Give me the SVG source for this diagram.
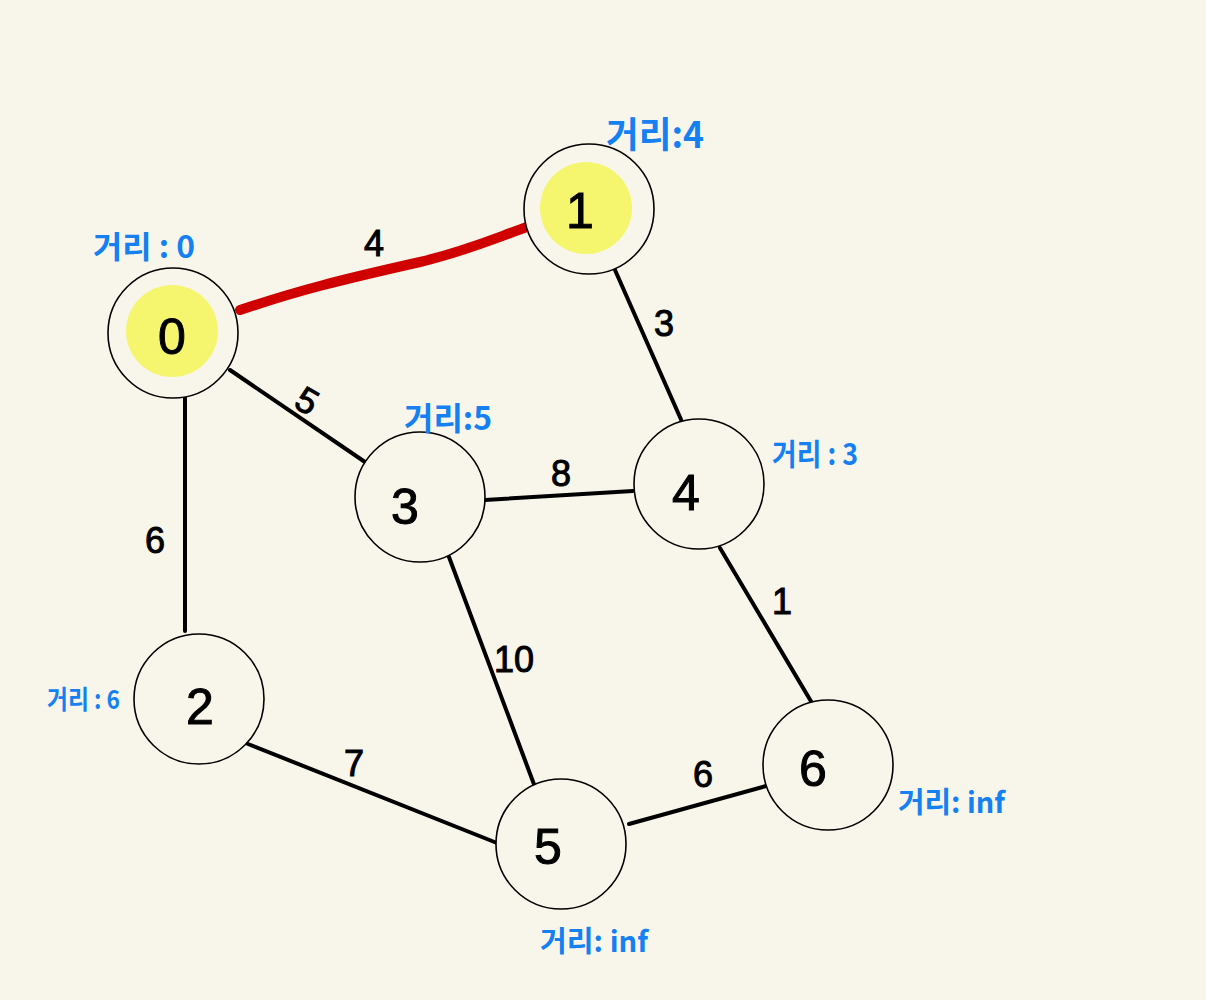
<svg xmlns="http://www.w3.org/2000/svg" width="1206" height="1000" viewBox="0 0 1206 1000">
<style>
.node{fill:#f8f6ea;stroke:#000;stroke-width:1.6}
.hl{fill:#f5f56e}
.nl{font-family:"Liberation Sans","Noto Sans",sans-serif;font-size:50px;fill:#000;text-anchor:middle;stroke:#000;stroke-width:1}
.el{font-family:"Liberation Sans","Noto Sans",sans-serif;font-size:36px;fill:#000;text-anchor:middle;stroke:#000;stroke-width:1}
.dl{font-family:"Noto Sans CJK KR","Noto Sans",sans-serif;font-weight:bold;fill:#1580f2}
.e{stroke:#000;stroke-width:4;stroke-linecap:round;fill:none}
</style>
<rect width="1206" height="1000" fill="#f8f6ea"/>
<g id="connectors">
<path d="M240,310 C300,290 340,280 420,262 C470,250 500,236 530,226" stroke="#d00000" stroke-width="10" stroke-linecap="round" fill="none"/>
<line class="e" x1="615" y1="270" x2="683" y2="424"/>
<line class="e" x1="230" y1="370" x2="365" y2="462"/>
<line class="e" x1="185" y1="398" x2="185" y2="631"/>
<line class="e" x1="485" y1="500" x2="633" y2="491"/>
<line class="e" x1="449" y1="557" x2="535" y2="787"/>
<line class="e" x1="720" y1="548" x2="812" y2="703"/>
<line class="e" x1="248" y1="744" x2="497" y2="843"/>
<line class="e" x1="629" y1="824" x2="766" y2="786"/>
<text class="el" x="374" y="256">4</text>
<text class="el" x="664" y="336">3</text>
<text class="el" x="307" y="413" transform="rotate(30 307 401)">5</text>
<text class="el" x="155" y="553">6</text>
<text class="el" x="561" y="486">8</text>
<text class="el" x="514" y="672">10</text>
<text class="el" x="782" y="614">1</text>
<text class="el" x="354" y="776">7</text>
<text class="el" x="703" y="787">6</text>
</g>
<g id="node0">
<circle class="node" cx="173" cy="333" r="65"/>
<circle class="hl" cx="172" cy="331" r="46"/>
<text class="nl" x="172" y="354">0</text>
<text class="dl" x="93" y="258" font-size="31" textLength="102" lengthAdjust="spacingAndGlyphs">거리 : 0</text>
</g>
<g id="node1">
<circle class="node" cx="589" cy="209" r="65"/>
<circle class="hl" cx="586" cy="208" r="46"/>
<text class="nl" x="580" y="228">1</text>
<text class="dl" x="606" y="148" font-size="36" textLength="98" lengthAdjust="spacingAndGlyphs">거리:4</text>
</g>
<g id="node2">
<circle class="node" cx="199" cy="699" r="65"/>
<text class="nl" x="200" y="724">2</text>
<text class="dl" x="47" y="709" font-size="26" textLength="73" lengthAdjust="spacingAndGlyphs">거리 : 6</text>
</g>
<g id="node3">
<circle class="node" cx="420" cy="497" r="65"/>
<text class="nl" x="405" y="524">3</text>
<text class="dl" x="404" y="430" font-size="32" textLength="88" lengthAdjust="spacingAndGlyphs">거리:5</text>
</g>
<g id="node4">
<circle class="node" cx="699" cy="484" r="65"/>
<text class="nl" x="686" y="510">4</text>
<text class="dl" x="772" y="465" font-size="30" textLength="86" lengthAdjust="spacingAndGlyphs">거리 : 3</text>
</g>
<g id="node5">
<circle class="node" cx="561" cy="844" r="65"/>
<text class="nl" x="548" y="864">5</text>
<text class="dl" x="540" y="952" font-size="29" textLength="108" lengthAdjust="spacingAndGlyphs">거리: inf</text>
</g>
<g id="node6">
<circle class="node" cx="828" cy="765" r="65"/>
<text class="nl" x="813" y="786">6</text>
<text class="dl" x="898" y="813" font-size="29" textLength="107" lengthAdjust="spacingAndGlyphs">거리: inf</text>
</g>
</svg>
